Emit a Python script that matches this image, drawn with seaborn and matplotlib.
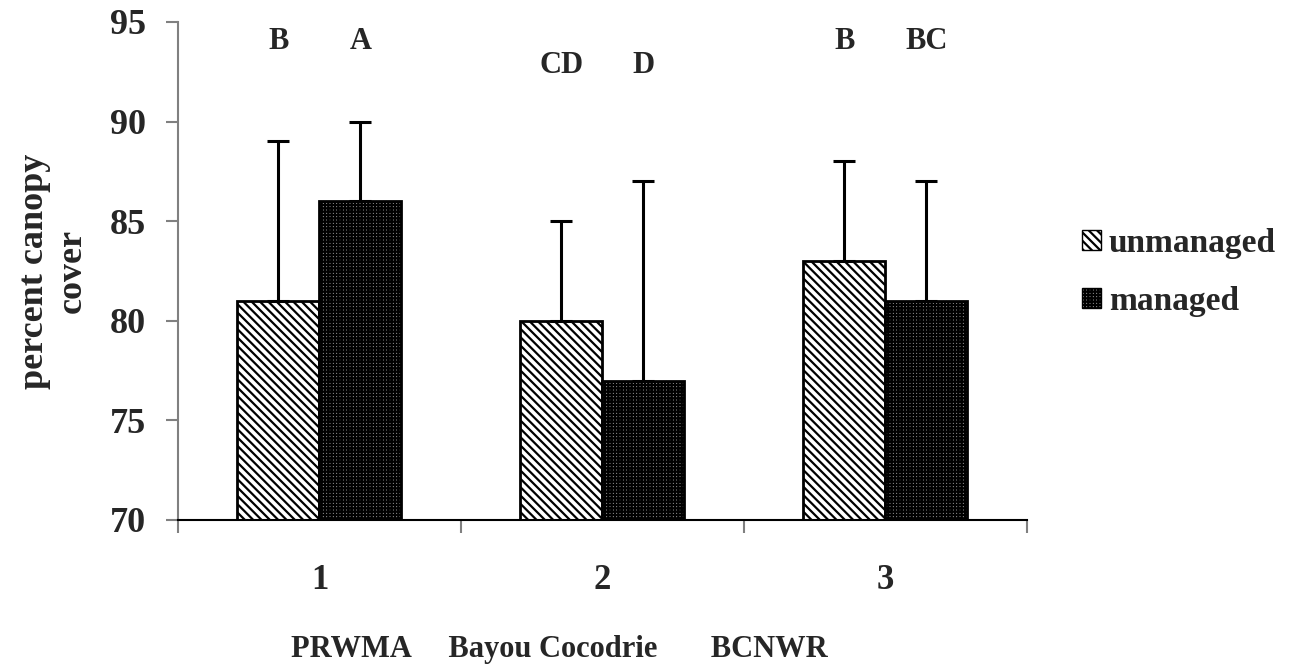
import pandas as pd
import matplotlib
matplotlib.use("Agg")
import matplotlib.pyplot as plt
import seaborn as sns
from matplotlib.patches import Patch

# data
sites = ["1", "2", "3"]
treatments = ["unmanaged", "managed"]
unmanaged = [81, 80, 83]
managed = [86, 77, 81]
unmanaged_err = [8, 5, 5]
managed_err = [4, 10, 6]
unmanaged_letters = ["B", "CD", "B"]
managed_letters = ["A", "D", "BC"]
letter_y = [94.0, 92.8, 94.0]

df = pd.DataFrame({
    "site": sites * 2,
    "treatment": ["unmanaged"] * 3 + ["managed"] * 3,
    "cover": unmanaged + managed,
})

sns.set_style("white")
plt.rcParams["font.family"] = ["Liberation Serif", "DejaVu Serif"]
plt.rcParams["font.weight"] = "bold"
plt.rcParams["hatch.linewidth"] = 1.6

fig = plt.figure(figsize=(12.96, 6.64), dpi=100)
ax = fig.add_axes([0.1373, 0.2169, 0.655, 0.75])

sns.barplot(data=df, x="site", y="cover", hue="treatment", order=sites,
            hue_order=treatments, width=0.58, gap=0, errorbar=None,
            edgecolor="black", linewidth=2, ax=ax, legend=False)
bar_groups = list(ax.containers)

styles = {"unmanaged": ("white", "\\\\\\\\"), "managed": ("#a0a0a0", "+++++")}
for cont, t in zip(bar_groups, treatments):
    for bar in cont:
        bar.set_facecolor(styles[t][0])
        bar.set_hatch(styles[t][1])
        bar.set_y(70)
        bar.set_height(bar.get_height() - 70)

# one-sided error bars (upper only)
for cont, vals, errs in zip(bar_groups, [unmanaged, managed], [unmanaged_err, managed_err]):
    xs = [b.get_x() + b.get_width() / 2 for b in cont]
    ax.errorbar(xs, vals, yerr=[[0] * 3, errs], fmt="none", ecolor="black",
                elinewidth=2.2, capsize=8, capthick=2.2, zorder=1)

# significance letters
for cont, labels in zip(bar_groups, [unmanaged_letters, managed_letters]):
    for j, b in enumerate(cont):
        ax.text(b.get_x() + b.get_width() / 2, letter_y[j], labels[j],
                ha="center", va="center", fontsize=22, fontweight="bold")

ax.set_ylim(70, 95)
ax.set_yticks([70, 75, 80, 85, 90, 95])
ax.set_xlim(-0.5, 2.5)
ax.set_xticks([-0.5, 0.5, 1.5, 2.5], minor=True)
ax.tick_params(axis="x", which="major", length=0, labelsize=25, pad=32)
ax.tick_params(axis="x", which="minor", bottom=True, length=9, width=1.5, color="gray")
ax.tick_params(axis="y", length=9, width=1.5, color="gray", labelsize=26, pad=14, left=True)
for lab in ax.get_xticklabels() + ax.get_yticklabels():
    lab.set_fontweight("bold")

sns.despine(ax=ax, top=True, right=True)
ax.spines["left"].set_color("gray")
ax.spines["left"].set_linewidth(1.5)
ax.spines["bottom"].set_color("black")
ax.spines["bottom"].set_linewidth(1.5)

ax.set_ylabel("percent canopy\ncover", fontsize=26, fontweight="bold")
ax.yaxis.set_label_coords(-0.105, 0.5)
ax.set_xlabel("PRWMA     Bayou Cocodrie       BCNWR", fontsize=22, fontweight="bold")
ax.xaxis.set_label_coords(0.133, -0.261)
ax.xaxis.label.set_ha("left")
ax.xaxis.label.set_va("center")

handles = [Patch(facecolor=styles[t][0], hatch=styles[t][1], edgecolor="black", label=t)
           for t in treatments]
fig.legend(handles=handles, loc="center left", bbox_to_anchor=(0.812, 0.59),
           frameon=False, prop={"size": 24, "weight": "bold"},
           handlelength=0.55, handleheight=0.55, handletextpad=0.25, labelspacing=0.8)

fig.savefig("out.png", dpi=100)
